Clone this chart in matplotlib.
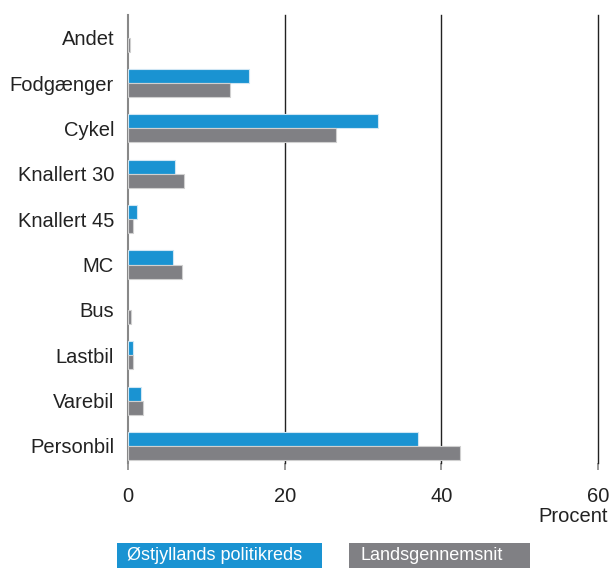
import matplotlib.pyplot as plt
from matplotlib.patches import Rectangle
import numpy as np

plt.rcParams['font.family'] = ['Liberation Sans', 'DejaVu Sans']

categories = ["Andet", "Fodgænger", "Cykel", "Knallert 30", "Knallert 45",
              "MC", "Bus", "Lastbil", "Varebil", "Personbil"]
oestjylland = [0.0, 15.5, 31.9, 6.0, 1.2, 5.7, 0.0, 0.6, 1.6, 37.0]
landsgennemsnit = [0.2, 13.0, 26.6, 7.1, 0.6, 6.9, 0.4, 0.6, 1.9, 42.4]
xticks = [0, 20, 40, 60]

blue = '#1a93d2'
grey = '#808084'
W, H = 611, 568

fig = plt.figure(figsize=(6.11, 5.68), dpi=100)
ax = fig.add_axes([128 / W, 1 - 463 / H, 470 / W, 448 / H])

n = len(categories)
pos = np.arange(n)[::-1]  # Andet at top
h = 0.31
blue_edges = ['#cfe6f4' if v > 0 else 'none' for v in oestjylland]
ax.barh(pos + h / 2, oestjylland, height=h, color=blue, edgecolor=blue_edges, linewidth=0.8, zorder=3)
ax.barh(pos - h / 2, landsgennemsnit, height=h, color=grey, edgecolor='#d0d0d0', linewidth=0.8, zorder=3)

ax.set_xlim(0, 60)
ax.set_ylim(-0.375, n - 0.5)
ax.set_yticks(pos)
ax.set_yticklabels(categories, fontsize=14.5, color='#222222')
ax.tick_params(axis='y', length=0, pad=10)
ax.set_xticks(xticks)
ax.set_xticklabels([str(t) for t in xticks], fontsize=14.5, color='#222222')
ax.tick_params(axis='x', length=5, color='#888888', width=1.2, pad=12)

for x in xticks[1:]:
    ax.axvline(x, color='#222222', linewidth=1.0, zorder=2, clip_on=False)

for s in ['top', 'right', 'bottom']:
    ax.spines[s].set_visible(False)
ax.spines['left'].set_color('#888888')
ax.spines['left'].set_linewidth(1.5)
ax.spines['left'].set_zorder(1)

fig.text(608 / W, 1 - 516 / H, "Procent", ha='right', va='center', fontsize=14.5, color='#222222')

# legend boxes
fig.patches.append(Rectangle((117 / W, 0), 205 / W, 25 / H, transform=fig.transFigure,
                             facecolor=blue, edgecolor='none'))
fig.patches.append(Rectangle((349 / W, 0), 181 / W, 25 / H, transform=fig.transFigure,
                             facecolor=grey, edgecolor='none'))
fig.text(127 / W, 1 - 556 / H, "Østjyllands politikreds", ha='left', va='center',
         fontsize=13, color='white')
fig.text(360 / W, 1 - 556 / H, "Landsgennemsnit", ha='left', va='center',
         fontsize=13, color='white')

fig.savefig("out.png", dpi=100)
